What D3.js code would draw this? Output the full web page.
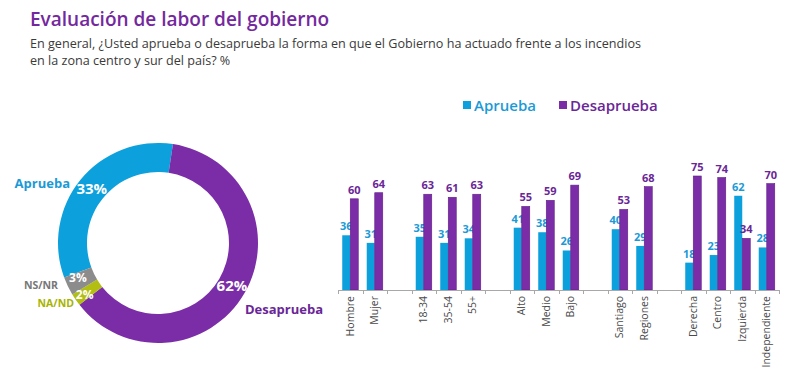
<!DOCTYPE html>
<html><head><meta charset="utf-8">
<script src="https://cdn.jsdelivr.net/npm/d3@7"></script>
<style>html,body{margin:0;padding:0;background:#fff;}svg{display:block;}</style>
</head><body>
<script>
const title = "Evaluación de labor del gobierno";
const subtitleLines = ["En general, ¿Usted aprueba o desaprueba la forma en que el Gobierno ha actuado frente a los incendios",
                       "en la zona centro y sur del país? %"];

// Donut data
const donutLabels = ["Aprueba", "Desaprueba", "NA/ND", "NS/NR"];
const donutValues = [33, 62, 2, 3];
const donutColors = ["#0CA0DC", "#7B2DA7", "#B3BE12", "#8C8C8C"];

// Bar data (empty strings = gaps between groups)
const categories = ["Hombre","Mujer","","18-34","35-54","55+","","Alto","Medio","Bajo","","Santiago","Regiones","","Derecha","Centro","Izquierda","Independiente"];
const aprueba    = [36,31,null,35,31,34,null,41,38,26,null,40,29,null,18,23,62,28];
const desaprueba = [60,64,null,63,61,63,null,55,59,69,null,53,68,null,75,74,34,70];
const seriesNames = ["Aprueba","Desaprueba"];
const seriesColors = ["#0CA0DC","#7B2DA7"];
const labelColors = ["#1B9AD6","#6A2697"];

const W = 790, H = 391;
const svg = d3.select("body").append("svg").attr("width", W).attr("height", H);
const FONT = "'Open Sans', 'DejaVu Sans', sans-serif";

// Title
svg.append("text").attr("x", 30).attr("y", 26).text(title)
  .attr("font-family", FONT).attr("font-size", 19).attr("font-weight", 600).attr("fill", "#74289E");
subtitleLines.forEach((l, i) => {
  svg.append("text").attr("x", 30).attr("y", 48 + i * 17).text(l)
    .attr("font-family", FONT).attr("font-size", 12.6).attr("fill", "#3a3a3a");
});

// Donut
const cx = 158, cy = 243, rOut = 100, rIn = 71;
const startDeg = -110.2;
const pie = d3.pie().sort(null).value(d => d)
  .startAngle(startDeg * Math.PI / 180).endAngle((startDeg + 360) * Math.PI / 180);
const arcs = pie(donutValues);
const arc = d3.arc().innerRadius(rIn).outerRadius(rOut);
const dg = svg.append("g").attr("transform", `translate(${cx},${cy})`);
dg.selectAll("path").data(arcs).join("path")
  .attr("d", arc).attr("fill", (d, i) => donutColors[i]);
const pctSize = [15, 15, 12, 12];
dg.selectAll("text.pct").data(arcs).join("text").attr("class", "pct")
  .attr("transform", (d, i) => {
    const c = arc.centroid(d);
    const adj = [[0,0],[0,0],[-3,3],[-3,-2]][i];
    return `translate(${c[0] + adj[0]},${c[1] + adj[1]})`;
  })
  .attr("text-anchor", "middle").attr("dy", "0.35em")
  .attr("font-family", FONT).attr("font-weight", 700)
  .attr("font-size", (d, i) => pctSize[i]).attr("fill", "#fff")
  .text((d, i) => donutValues[i] + "%");

// Outside labels
const outside = [
  {i: 0, x: 70, y: 188, anchor: "end", size: 13, color: "#1B9AD6", w: 700},
  {i: 1, x: 245, y: 314, anchor: "start", size: 13, color: "#6A2697", w: 700},
  {i: 2, x: 74, y: 307, anchor: "end", size: 10.5, color: "#A7B300", w: 700},
  {i: 3, x: 58, y: 289, anchor: "end", size: 10.5, color: "#777777", w: 700}
];
outside.forEach(o => {
  svg.append("text").attr("x", o.x).attr("y", o.y).attr("text-anchor", o.anchor)
    .attr("font-family", FONT).attr("font-size", o.size).attr("font-weight", o.w)
    .attr("fill", o.color).text(donutLabels[o.i]);
});

// Bar chart
const x0 = 338, x1 = 779, yBase = 290;
const x = d3.scaleBand().domain(d3.range(categories.length)).range([x0, x1]).padding(0);
const xs = d3.scaleBand().domain([0, 1]).range([0, x.bandwidth()]).paddingInner(0).paddingOuter(0.53);
const y = d3.scaleLinear().domain([0, 100]).range([yBase, yBase - 152]);

const series = [aprueba, desaprueba];
series.forEach((vals, s) => {
  const g = svg.append("g");
  const data = vals.map((v, i) => ({i, v})).filter(d => d.v != null);
  g.selectAll("rect").data(data).join("rect")
    .attr("x", d => x(d.i) + xs(s))
    .attr("y", d => y(d.v))
    .attr("width", xs.bandwidth())
    .attr("height", d => y(0) - y(d.v))
    .attr("fill", seriesColors[s])
    .attr("stroke", s === 1 ? "#5E1F86" : "none").attr("stroke-width", s === 1 ? 0.6 : 0);
  g.selectAll("text").data(data).join("text")
    .attr("x", d => x(d.i) + xs(s) + xs.bandwidth() / 2)
    .attr("y", d => y(d.v) - 5)
    .attr("text-anchor", "middle")
    .attr("font-family", FONT).attr("font-weight", 700).attr("font-size", 11)
    .attr("fill", labelColors[s]).text(d => d.v);
});

// Axis line and boundary ticks
const ax = svg.append("g").attr("stroke", "#a8a8a8").attr("stroke-width", 1);
ax.append("line").attr("x1", x0).attr("x2", x1).attr("y1", yBase + 0.5).attr("y2", yBase + 0.5);
const bounds = d3.range(categories.length).map(i => x(i)).concat([x1]);
ax.selectAll("line.tk").data(bounds).join("line").attr("class", "tk")
  .attr("x1", d => Math.round(d) + 0.5).attr("x2", d => Math.round(d) + 0.5)
  .attr("y1", yBase).attr("y2", yBase + 4);

// Category labels
svg.append("g").selectAll("text").data(categories.map((c, i) => ({c, i})).filter(d => d.c))
  .join("text")
  .attr("transform", d => `translate(${x(d.i) + x.bandwidth() / 2 + 3.5},${yBase + 6}) rotate(-90)`)
  .attr("text-anchor", "end")
  .attr("font-family", FONT).attr("font-size", 10.5).attr("fill", "#4a4a4a")
  .text(d => d.c);

// Legend
const legX = [463, 559];
seriesNames.forEach((n, s) => {
  svg.append("rect").attr("x", legX[s]).attr("y", 101).attr("width", 8).attr("height", 8)
    .attr("fill", seriesColors[s]);
  svg.append("text").attr("x", legX[s] + 11).attr("y", 111)
    .attr("font-family", FONT).attr("font-size", 15).attr("font-weight", 600)
    .attr("fill", labelColors[s]).text(n);
});
</script>
</body></html>
